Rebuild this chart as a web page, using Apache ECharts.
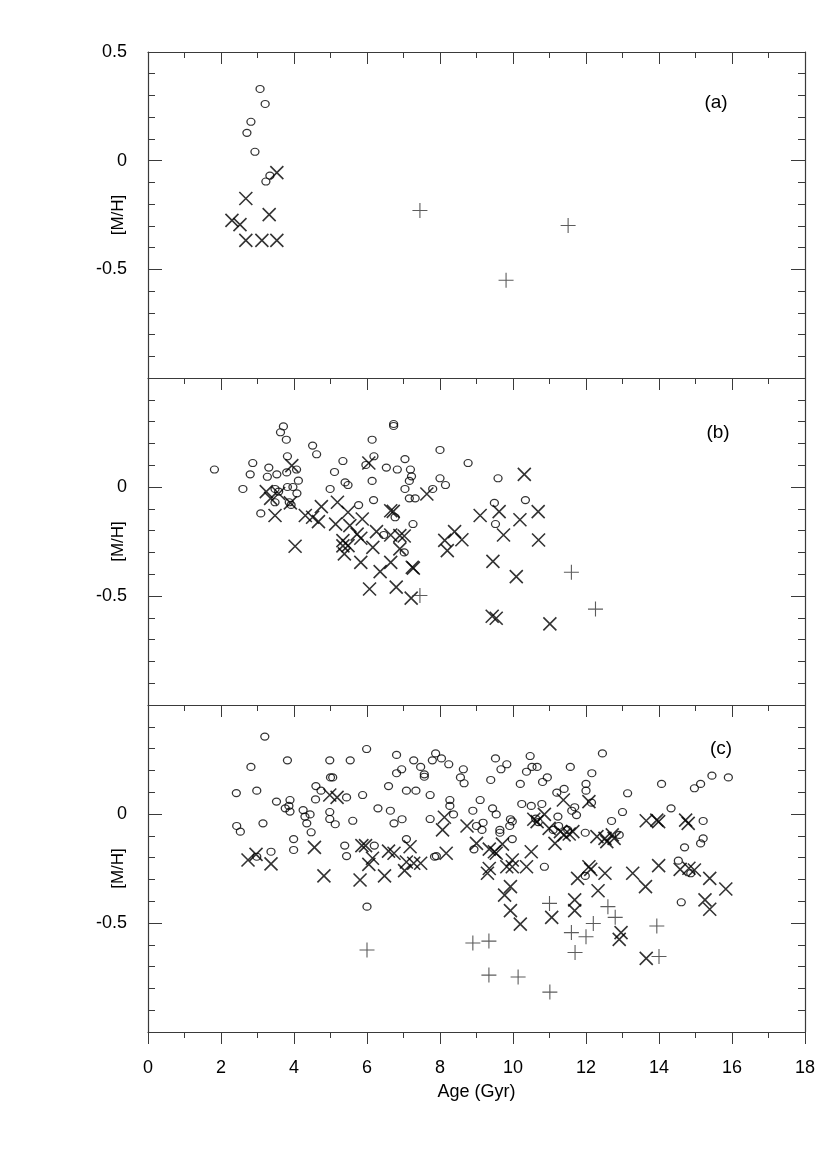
<!DOCTYPE html>
<html><head><meta charset="utf-8">
<script src="https://cdn.jsdelivr.net/npm/echarts@6/dist/echarts.min.js"></script>
<style>html,body{margin:0;padding:0;background:#fff}#c{width:827px;height:1170px}</style>
</head><body><div id="c"></div>
<script>
// ---- data ----
const xTicks = [0,2,4,6,8,10,12,14,16,18];
const yTickLabelsA = ['0.5','0','-0.5'];
const panelLabels = ['(a)','(b)','(c)'];

// panel (a)
const aCirc = [[3.07,0.33],[3.21,0.261],[2.82,0.179],[2.71,0.128],[2.93,0.041],[3.34,-0.069],[3.23,-0.096]];
const aCross = [[3.53,-0.055],[2.68,-0.174],[3.32,-0.248],[2.30,-0.275],[2.52,-0.294],[2.68,-0.367],[3.12,-0.367],[3.53,-0.367]];
const aPlus = [[7.45,-0.229],[9.81,-0.55],[11.51,-0.298]];

// panel (b)
const bCirc = [[1.82,0.08],[2.6,-0.009],[2.8,0.058],[2.87,0.11],[3.09,-0.121],[3.31,0.089],[3.27,0.047],[3.53,0.058],
[3.71,0.278],[3.63,0.251],[3.79,0.217],[3.82,0.141],[3.8,0.067],[4.07,0.08],[4.12,0.029],[3.82,0.0],[3.97,0.0],[4.08,-0.029],
[3.48,-0.009],[3.58,-0.021],[3.48,-0.07],[3.87,-0.07],[3.92,-0.082],[4.51,0.19],[4.62,0.15],[4.99,-0.009],[5.11,0.069],[5.34,0.119],
[5.4,0.021],[5.48,0.009],[5.77,-0.083],[6.14,0.217],[6.19,0.141],[5.97,0.101],[6.14,0.028],[6.18,-0.06],[6.53,0.089],[6.73,0.289],[6.73,0.28],
[6.83,0.08],[7.04,0.128],[7.19,0.08],[7.22,0.049],[7.16,0.028],[7.04,-0.009],[7.16,-0.052],[7.32,-0.052],[7.26,-0.17],[6.77,-0.139],[6.46,-0.22],[7.02,-0.3],
[8.0,0.17],[8.77,0.11],[8.0,0.04],[8.15,0.009],[7.8,-0.009],[9.59,0.04],[9.49,-0.073],[10.34,-0.06],[9.52,-0.17]];
const bCross = [[3.94,0.098],[3.24,-0.021],[3.36,-0.052],[3.58,-0.03],[3.48,-0.131],[3.9,-0.073],[4.03,-0.272],[4.31,-0.131],[4.51,-0.139],
[4.67,-0.159],[4.75,-0.09],[5.19,-0.07],[5.48,-0.116],[5.14,-0.17],[5.87,-0.147],[5.53,-0.177],[5.73,-0.216],[5.83,-0.235],[5.34,-0.246],
[5.48,-0.269],[5.34,-0.27],[6.16,-0.277],[6.26,-0.205],[5.38,-0.307],[5.83,-0.346],[6.36,-0.388],[6.65,-0.346],[6.65,-0.109],[6.72,-0.112],
[6.05,0.11],[6.65,-0.22],[6.9,-0.223],[7.02,-0.225],[6.9,-0.284],[7.24,-0.368],[7.27,-0.372],[7.64,-0.032],[6.07,-0.468],[6.8,-0.459],[7.21,-0.51],
[10.31,0.058],[9.62,-0.113],[10.69,-0.113],[9.1,-0.131],[10.19,-0.15],[8.4,-0.205],[9.74,-0.22],[10.7,-0.243],[8.13,-0.245],[8.6,-0.242],
[8.2,-0.292],[9.45,-0.341],[10.09,-0.411],[9.43,-0.593],[9.54,-0.602],[11.01,-0.628]];
const bPlus = [[7.45,-0.498],[11.6,-0.391],[12.26,-0.56]];

// panel (c)
const cCirc = [[3.2,0.355],[2.82,0.216],[3.82,0.246],[4.98,0.246],[5.54,0.246],[5.99,0.298],[5.0,0.168],[5.06,0.168],[2.42,0.096],[2.98,0.107],
[3.52,0.057],[3.89,0.064],[3.86,0.037],[3.76,0.026],[3.89,0.011],[4.25,0.018],[4.3,-0.012],[4.44,-0.002],[4.35,-0.043],[4.47,-0.084],
[4.6,0.128],[4.74,0.107],[4.59,0.067],[4.98,0.009],[4.98,-0.023],[5.13,-0.047],[5.44,0.076],[5.61,-0.031],[5.88,0.087],[6.3,0.026],
[6.64,0.015],[6.74,-0.043],[6.96,-0.024],[6.59,0.128],[6.81,0.271],[6.81,0.187],[6.95,0.205],[7.28,0.246],[7.47,0.216],[7.57,0.182],[7.57,0.171],
[7.79,0.246],[7.88,0.278],[7.08,0.107],[7.34,0.107],[7.73,0.087],[7.73,-0.023],[2.43,-0.055],[2.53,-0.081],[3.15,-0.043],[3.99,-0.115],
[3.99,-0.165],[3.37,-0.173],[2.98,-0.196],[5.39,-0.145],[5.44,-0.193],[7.08,-0.115],[6.2,-0.145],[7.85,-0.196],
[8.04,0.255],[8.24,0.228],[8.64,0.205],[8.56,0.168],[8.66,0.141],[9.52,0.255],[9.83,0.228],[9.67,0.205],[9.39,0.156],[10.37,0.194],
[10.47,0.266],[10.52,0.216],[10.66,0.216],[10.2,0.138],[10.81,0.147],[10.94,0.168],[11.57,0.216],[12.16,0.187],[12.45,0.278],[12.0,0.138],
[12.0,0.107],[12.15,0.052],[11.2,0.098],[11.4,0.115],[13.14,0.095],[13.0,0.009],[12.7,-0.032],[8.27,0.064],[8.27,0.037],[8.37,-0.002],
[9.1,0.064],[8.9,0.015],[9.44,0.026],[9.54,-0.002],[9.0,-0.055],[9.18,-0.04],[9.15,-0.073],[9.64,-0.073],[9.64,-0.086],[9.93,-0.024],
[9.98,-0.034],[9.91,-0.055],[10.24,0.046],[10.5,0.037],[10.79,0.046],[10.62,-0.021],[10.69,-0.037],[11.23,-0.012],[11.25,-0.055],[11.1,-0.073],
[11.61,0.015],[11.69,0.031],[11.74,-0.005],[11.5,-0.073],[11.98,-0.086],[12.91,-0.096],[9.98,-0.115],[8.93,-0.162],[7.9,-0.193],[10.86,-0.242],
[14.07,0.138],[14.97,0.118],[15.14,0.138],[15.45,0.176],[15.9,0.168],[14.33,0.026],[15.21,-0.032],[15.21,-0.112],[15.14,-0.135],[14.7,-0.153],
[14.53,-0.214],[6.0,-0.425],[11.98,-0.284],[14.87,-0.272],[14.61,-0.405]];
const cCross = [[4.98,0.087],[5.18,0.076],[2.96,-0.185],[2.74,-0.211],[3.37,-0.229],[4.56,-0.153],[5.86,-0.145],[5.96,-0.145],[6.59,-0.17],
[6.74,-0.18],[7.18,-0.15],[6.15,-0.203],[6.05,-0.231],[7.08,-0.22],[7.28,-0.226],[7.47,-0.226],
[8.12,-0.015],[8.07,-0.073],[8.74,-0.055],[9.0,-0.135],[9.35,-0.161],[9.49,-0.173],[9.54,-0.18],[9.71,-0.138],[10.5,-0.173],[9.98,-0.211],
[9.83,-0.242],[9.98,-0.242],[10.37,-0.242],[8.17,-0.18],[9.35,-0.25],[10.57,-0.024],[10.66,-0.035],[10.86,-0.002],[10.99,-0.066],[11.3,-0.081],
[11.4,-0.096],[11.54,-0.092],[11.64,-0.081],[11.15,-0.135],[11.38,0.064],[12.08,0.057],[12.3,-0.104],[12.52,-0.112],[12.57,-0.127],[12.72,-0.096],
[12.77,-0.112],[13.65,-0.031],[12.08,-0.242],[13.94,-0.028],[13.99,-0.035],[14.73,-0.028],[14.8,-0.043],[13.99,-0.237],[14.58,-0.254],[14.82,-0.249],
[14.97,-0.257],[4.82,-0.284],[5.81,-0.303],[6.48,-0.284],[7.03,-0.26],[9.3,-0.272],[9.93,-0.333],[9.77,-0.372],[9.93,-0.443],[10.2,-0.505],
[11.06,-0.474],[11.69,-0.394],[11.69,-0.443],[11.77,-0.295],[12.13,-0.254],[12.52,-0.272],[12.33,-0.352],[13.28,-0.272],[13.63,-0.333],
[12.96,-0.544],[12.91,-0.575],[13.65,-0.662],[15.39,-0.295],[15.83,-0.344],[15.26,-0.394],[15.39,-0.437]];
const cPlus = [[6.0,-0.624],[11.0,-0.41],[12.6,-0.425],[12.8,-0.474],[12.2,-0.502],[11.6,-0.544],[12.0,-0.563],[11.7,-0.635],
[8.9,-0.592],[9.34,-0.583],[9.34,-0.739],[10.14,-0.748],[11.01,-0.817],[13.94,-0.514],[14.0,-0.654]];

const circles = [aCirc,bCirc,cCirc], crosses = [aCross,bCross,cCross], pluses = [aPlus,bPlus,cPlus];

// ---- chart ----
const FONT = '"Liberation Sans", Arial, sans-serif';
const AX = '#3a3a3a';
const grids = [{top:52,height:326},{top:378,height:327},{top:705,height:327}];
const chart = echarts.init(document.getElementById('c'), null, {renderer:'canvas'});

const xAxis = [], yAxis = [], series = [];
grids.forEach((g,i)=>{
  xAxis.push({type:'value',gridIndex:i,position:'bottom',min:0,max:18,interval:2,
    axisLine:{show:true,onZero:false,lineStyle:{color:AX,width:1.2}},
    axisTick:{show:true,length:12,lineStyle:{color:AX,width:1}},
    minorTick:{show:true,splitNumber:2,length:6,lineStyle:{color:AX,width:1}},
    splitLine:{show:false},
    axisLabel:{show:i===2,fontFamily:FONT,fontSize:18,color:'#000',margin:27},
    name:i===2?'Age (Gyr)':'',nameLocation:'middle',nameGap:51,nameMoveOverlap:false,
    nameTextStyle:{fontFamily:FONT,fontSize:18,color:'#000'}});
  yAxis.push({type:'value',gridIndex:i,position:'left',min:-1,max:0.5,interval:0.5,
    axisLine:{show:true,onZero:false,lineStyle:{color:AX,width:1.2}},
    axisTick:{show:true,inside:true,length:14,lineStyle:{color:AX,width:1}},
    minorTick:{show:true,splitNumber:5,length:7,lineStyle:{color:AX,width:1}},
    splitLine:{show:false},
    axisLabel:{fontFamily:FONT,fontSize:18,color:'#000',margin:21,
      formatter:(v)=>{ if (Math.abs(v+1)<1e-9) return ''; if (Math.abs(v-0.5)<1e-9) return i===0?yTickLabelsA[0]:''; return Math.abs(v)<1e-9?yTickLabelsA[1]:yTickLabelsA[2]; }},
    name:'[M/H]',nameLocation:'middle',nameGap:21,nameRotate:90,nameMoveOverlap:false,
    nameTextStyle:{fontFamily:FONT,fontSize:17,color:'#000'}});
});
// top axis for panel (a)
xAxis.push({type:'value',gridIndex:0,position:'top',min:0,max:18,interval:2,
  axisLine:{show:true,onZero:false,lineStyle:{color:AX,width:1.2}},
  axisTick:{show:true,inside:true,length:12,lineStyle:{color:AX,width:1}},
  minorTick:{show:true,splitNumber:2,length:6,lineStyle:{color:AX,width:1}},
  splitLine:{show:false},axisLabel:{show:false}});
// right y axes
grids.forEach((g,i)=>{
  yAxis.push({type:'value',gridIndex:i,position:'right',min:-1,max:0.5,interval:0.5,
    axisLine:{show:true,onZero:false,lineStyle:{color:AX,width:1.2}},
    axisTick:{show:true,inside:true,length:14,lineStyle:{color:AX,width:1}},
    minorTick:{show:true,splitNumber:5,length:7,lineStyle:{color:AX,width:1}},
    splitLine:{show:false},axisLabel:{show:false}});
});

grids.forEach((g,i)=>{
  series.push({type:'scatter',xAxisIndex:i,yAxisIndex:i,data:circles[i],symbol:'circle',symbolSize:[8,7],
    itemStyle:{color:'rgba(0,0,0,0)',borderColor:'#000',borderWidth:1.2},silent:true});
  series.push({type:'scatter',xAxisIndex:i,yAxisIndex:i,data:crosses[i],symbol:'path://M0,0L13,13M13,0L0,13',symbolSize:13,
    itemStyle:{color:'none',borderColor:'#000',borderWidth:1.6},silent:true});
  series.push({type:'scatter',xAxisIndex:i,yAxisIndex:i,data:pluses[i],symbol:'path://M7,0L7,14M0,7L14,7',symbolSize:15,
    itemStyle:{color:'none',borderColor:'#333',borderWidth:1.1},silent:true});
});

const labelPos = [[716,103],[718,433],[721,749]];
chart.setOption({
  animation:false,
  grid:grids.map(g=>({left:148,right:22,top:g.top,height:g.height,containLabel:false})),
  xAxis, yAxis, series,
  graphic: panelLabels.map((t,i)=>({type:'text',x:labelPos[i][0],y:labelPos[i][1],
    style:{text:t,fontFamily:FONT,fontSize:19,fill:'#000',align:'center',verticalAlign:'middle'}}))
});
</script></body></html>
